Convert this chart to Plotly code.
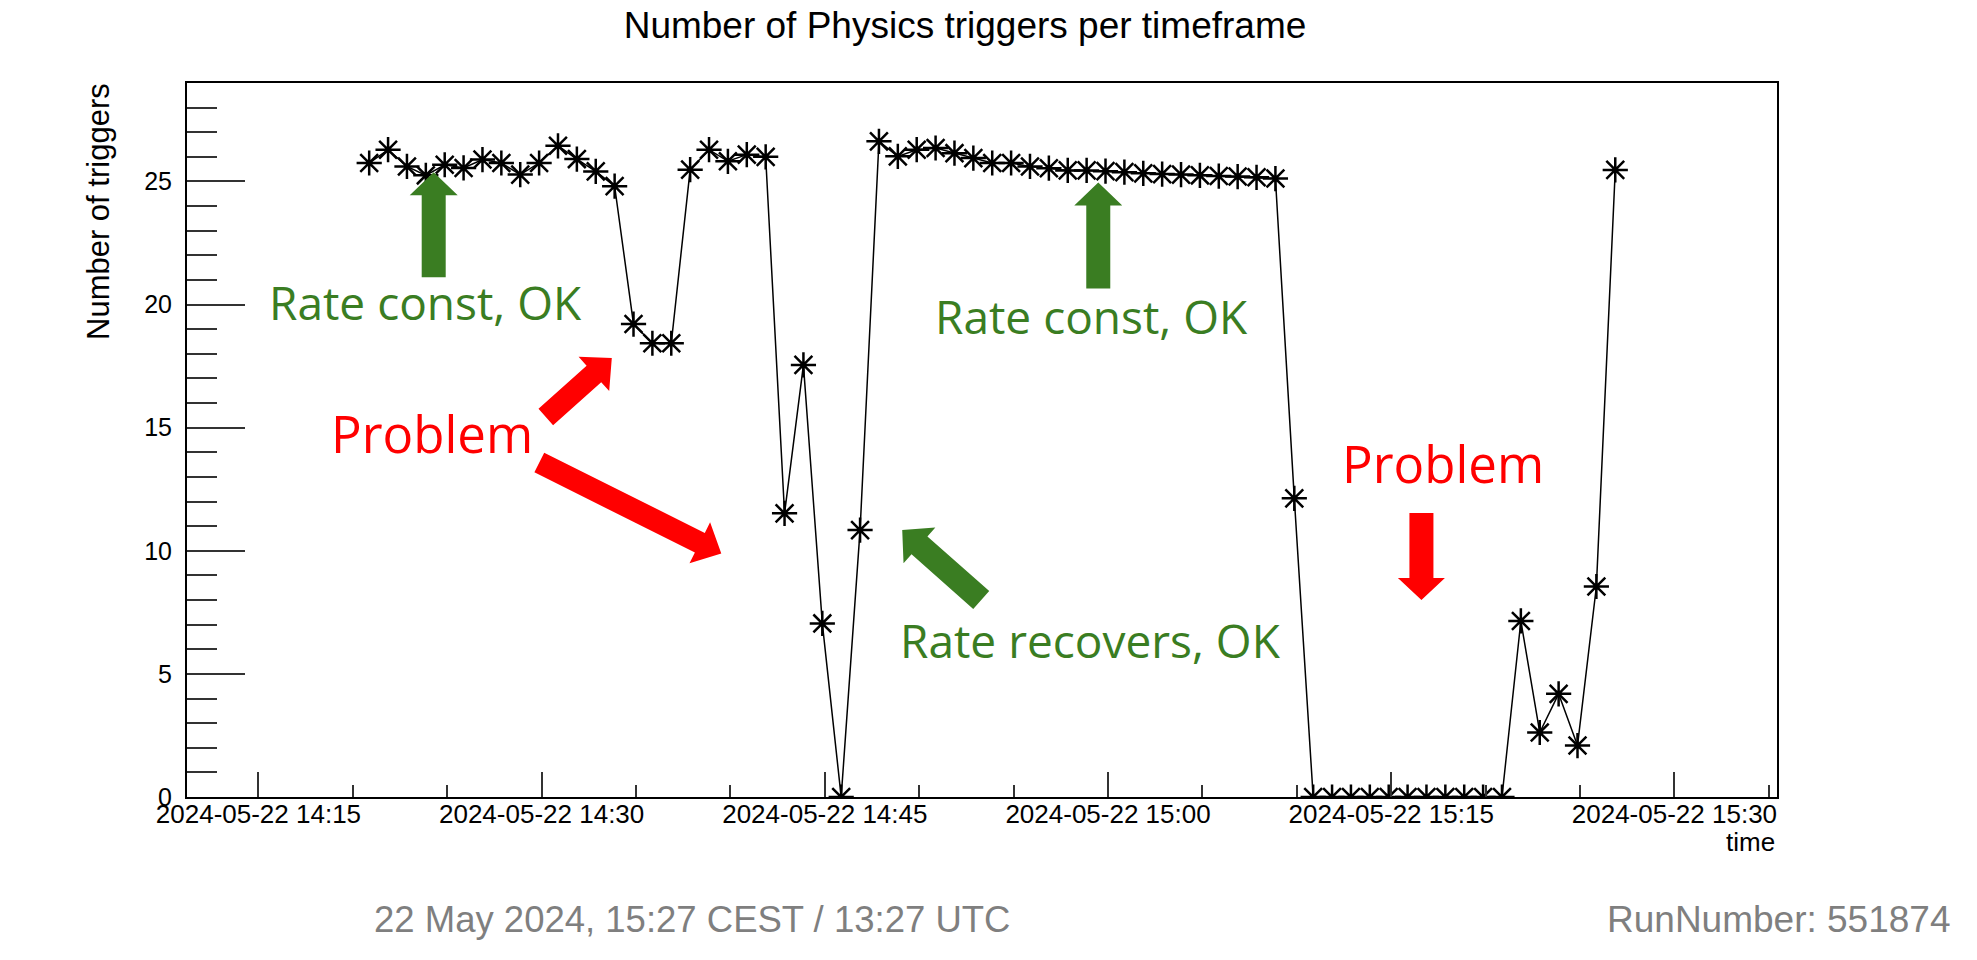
import plotly.graph_objects as go

# Number of Physics triggers per timeframe, run 551874
day = "2024-05-22"
times = [
    "14:20:52", "14:21:52", "14:22:52", "14:23:52", "14:24:52", "14:25:52", "14:26:52", "14:27:52", "14:28:52", "14:29:52",
    "14:30:52", "14:31:52", "14:32:52", "14:33:52", "14:34:52", "14:35:52", "14:36:52", "14:37:52", "14:38:52", "14:39:52",
    "14:40:52", "14:41:52", "14:42:52", "14:43:52", "14:44:52", "14:45:52", "14:46:52", "14:47:52", "14:48:52", "14:49:52",
    "14:50:52", "14:51:52", "14:52:52", "14:53:52", "14:54:52", "14:55:52", "14:56:52", "14:57:52", "14:58:52", "14:59:52",
    "15:00:52", "15:01:52", "15:02:52", "15:03:52", "15:04:52", "15:05:52", "15:06:52", "15:07:52", "15:08:52", "15:09:52",
    "15:10:52", "15:11:52", "15:12:52", "15:13:52", "15:14:52", "15:15:52", "15:16:52", "15:17:52", "15:18:52", "15:19:52",
    "15:20:52", "15:21:52", "15:22:52", "15:23:52", "15:24:52", "15:25:52", "15:26:52",
]
triggers = [
    25.75, 26.29, 25.61, 25.25, 25.68, 25.55, 25.89, 25.75, 25.28, 25.75,
    26.45, 25.91, 25.41, 24.81, 19.21, 18.43, 18.43, 25.48, 26.29, 25.82,
    26.09, 26.00, 11.52, 17.55, 7.05, 0.00, 10.84, 26.63, 26.02, 26.29,
    26.36, 26.15, 25.95, 25.75, 25.75, 25.61, 25.54, 25.45, 25.45, 25.42,
    25.38, 25.33, 25.30, 25.28, 25.25, 25.22, 25.20, 25.17, 25.12, 12.13,
    0.00, 0.00, 0.00, 0.00, 0.00, 0.00, 0.00, 0.00, 0.00, 0.00,
    0.00, 7.15, 2.62, 4.19, 2.09, 8.55, 25.47,
]
x_range = ["2024-05-22 14:11:13", "2024-05-22 15:35:26"]
y_range = [0, 29]

W, H = 1977, 960
OFF = 8  # default body margin of the html page
PW, PH = 1590, 714
L, T = 187 - OFF, 83 - OFF
R, B = W - L - PW, H - T - PH

GREEN = "#3A7D22"
RED = "#FF0000"
GREY = "#7f7f7f"


def px_x(px):
    return (px - OFF - L) / PW


def px_y(py):
    return (T + PH - (py - OFF)) / PH


def label(text, px, py, size, color, font="Open Sans", xanchor="center", angle=0):
    return dict(text=text, xref="paper", yref="paper", x=px_x(px), y=px_y(py),
                xanchor=xanchor, yanchor="middle", showarrow=False, textangle=angle,
                font=dict(family=font, size=size, color=color))


def block_arrow(tip_time, tip_val, dx, dy, color, shaft=24, head_w=48, head_l=23):
    # dx, dy: screen pixels from the tip back to the tail (right, down)
    n = (dx * dx + dy * dy) ** 0.5
    ux, uy = dx / n, dy / n
    nx, ny = -uy, ux
    pts = [
        (0, 0),
        (ux * head_l + nx * head_w / 2, uy * head_l + ny * head_w / 2),
        (ux * head_l + nx * shaft / 2, uy * head_l + ny * shaft / 2),
        (dx + nx * shaft / 2, dy + ny * shaft / 2),
        (dx - nx * shaft / 2, dy - ny * shaft / 2),
        (ux * head_l - nx * shaft / 2, uy * head_l - ny * shaft / 2),
        (ux * head_l - nx * head_w / 2, uy * head_l - ny * head_w / 2),
    ]
    path = "M " + " L ".join(f"{x:.1f},{-y:.1f}" for x, y in pts) + " Z"
    return dict(type="path", xref="x", yref="y", xsizemode="pixel", ysizemode="pixel",
                xanchor=f"{day} {tip_time}", yanchor=tip_val, path=path,
                fillcolor=color, line=dict(width=0), layer="above")


fig = go.Figure()
fig.add_trace(go.Scatter(
    x=[f"{day} {t}" for t in times], y=triggers,
    mode="lines+markers",
    line=dict(color="black", width=1.5),
    marker=dict(symbol="asterisk-open", size=21, color="black",
                line=dict(color="black", width=2.5)),
    showlegend=False,
))

fig.update_layout(
    width=W, height=H,
    margin=dict(l=L, r=R, t=T, b=B, autoexpand=False),
    paper_bgcolor="white", plot_bgcolor="white",
    font=dict(family="Liberation Sans", color="black"),
    title=dict(text="Number of Physics triggers per timeframe",
               x=(965 - OFF) / W, y=1 - (25 - OFF) / H,
               xanchor="center", yanchor="middle", xref="container", yref="container",
               font=dict(family="Liberation Sans", size=37, color="black")),
)

fig.update_xaxes(
    type="date", range=x_range, automargin=False,
    tickformat="%Y-%m-%d %H:%M", tick0="2024-05-22 14:15", dtick=15 * 60 * 1000,
    ticks="inside", ticklen=25, tickwidth=2, tickcolor="#333",
    minor=dict(dtick=5 * 60 * 1000, ticks="inside", ticklen=12, tickwidth=2, tickcolor="#333"),
    showline=True, linecolor="black", linewidth=2, mirror=True,
    showgrid=False, zeroline=False,
    tickfont=dict(family="Liberation Sans", size=26, color="black"),
    ticklabelstandoff=-7,
)
fig.update_yaxes(
    range=y_range, automargin=False,
    tick0=0, dtick=5,
    ticks="inside", ticklen=58, tickwidth=2, tickcolor="#333",
    minor=dict(dtick=1, ticks="inside", ticklen=30, tickwidth=2, tickcolor="#333"),
    showline=True, linecolor="black", linewidth=2, mirror=True,
    showgrid=False, zeroline=False,
    tickfont=dict(family="Liberation Sans", size=25, color="black"),
    ticklabelstandoff=8,
)

annotations = [
    label("Number of triggers", 98, 212, 31, "black", font="Liberation Sans", angle=-90),
    label("time", 1777, 842, 26, "black", font="Liberation Sans", xanchor="right"),
    label("22 May 2024, 15:27 CEST / 13:27 UTC", 372, 919, 36.5, GREY, font="Liberation Sans", xanchor="left"),
    label("RunNumber: 551874", 1953, 919, 37, GREY, font="Liberation Sans", xanchor="right"),
    label("Rate const, OK", 425, 302, 46, GREEN),
    label("Rate const, OK", 1091, 316, 46, GREEN),
    label("Rate recovers, OK", 1090, 640, 46, GREEN),
    label("Problem", 432, 433, 51, RED),
    label("Problem", 1443, 463, 51, RED),
]
fig.update_layout(annotations=annotations)

shapes = [
    block_arrow("14:24:17", 25.37, 0, 105, GREEN),
    block_arrow("14:59:29", 24.96, 0, 106, GREEN),
    block_arrow("14:49:06", 10.84, 79, 70, GREEN),
    block_arrow("14:33:43", 17.83, -66, 59, RED, shaft=22, head_w=46, head_l=24),
    block_arrow("14:39:31", 9.89, -182, -91, RED, shaft=22, head_w=46, head_l=24),
    block_arrow("15:16:36", 8.0, 0, -87, RED, shaft=24, head_w=47, head_l=22),
]
fig.update_layout(shapes=shapes)

fig.write_html("out.html")
